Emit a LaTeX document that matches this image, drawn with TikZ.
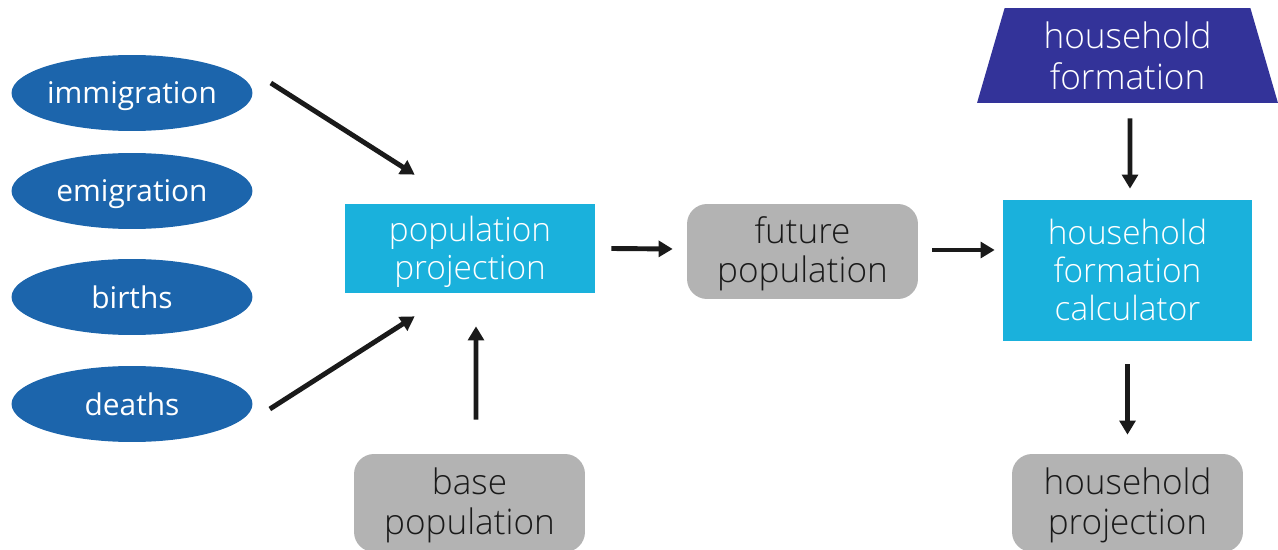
\documentclass[tikz,border=0pt]{standalone}
\usepackage{fontspec}
\setmainfont{Open Sans}
\newfontfamily\lightfont{Open Sans Light}
\usetikzlibrary{arrows.meta, calc, shapes.geometric}

\definecolor{inputblue}{HTML}{1C65AC}
\definecolor{procblue}{HTML}{1AB1DC}
\definecolor{datagray}{HTML}{B3B3B3}
\definecolor{paramnavy}{HTML}{333399}
\definecolor{arrowblack}{HTML}{1A1A1A}

% taller first line, so the box text sits a little lower
\newcommand{\firstline}{\rule{0pt}{0.7cm}}

\begin{document}
\begin{tikzpicture}[
        x=0.02cm, y=-0.02cm,
        source/.style={
            ellipse,
            fill=inputblue,
            text=white,
            inner sep=0pt,
            text depth=0pt,
            minimum width=4.82cm,
            minimum height=1.52cm,
            font=\fontsize{17}{20}\selectfont
        },
        process/.style={
            rectangle,
            fill=procblue,
            text=white,
            inner sep=0pt,
            align=center,
            font=\lightfont\fontsize{19}{21.7}\selectfont
        },
        data/.style={
            rectangle,
            rounded corners=0.4cm,
            fill=datagray,
            text=arrowblack,
            inner sep=0pt,
            minimum width=4.62cm,
            align=center,
            font=\lightfont\fontsize{20}{22.5}\selectfont
        },
        param/.style={
            trapezium,
            trapezium angle=68,
            trapezium stretches body,
            fill=paramnavy,
            text=white,
            inner sep=0pt,
            minimum width=6.02cm,
            minimum height=1.9cm,
            align=center,
            font=\lightfont\fontsize{20}{23.5}\selectfont
        },
        arrow/.style={
            -{Triangle[length=8pt, width=9pt]},
            line width=2.8pt,
            arrowblack
        }
    ]
    \useasboundingbox (0,0) rectangle (1278,550);

    % inputs
    \node[source] (immigration) at (132,93) {immigration};
    \node[source] (emigration) at (132,191) {emigration};
    \node[source] (births) at (132,297) {births};
    \node[source] (deaths) at (132,404) {deaths};

    \node[process, minimum width=5cm, minimum height=1.78cm] (popproj) at (470,248.5) {\firstline population\\projection\strut};
    \node[data, minimum height=1.96cm] (basepop) at (469.5,503) {\firstline base\\population\strut};
    \node[data, minimum height=1.9cm] (futpop) at (802.5,251.5) {\firstline future\\population\strut};

    \node[param] (hhform) at (1127.5,55.5) {household\\formation};
    \node[process, minimum width=4.98cm, minimum height=2.82cm] (calc) at (1127.5,270.5) {\firstline household\\formation\\calculator\strut};
    \node[data, minimum height=1.96cm] (hhproj) at (1127.5,503) {\firstline household\\projection\strut};

    % connectors
    \draw[arrow] ($(immigration.east)+(18,-10)$) -- ($(popproj.north west)+(70,-29)$);
    \draw[arrow] ($(deaths.east)+(17,5)$) -- ($(popproj.south west)+(70,23)$);
    \draw[arrow] ($(basepop.north)+(6.5,-34)$) -- ($(popproj.south)+(6,33)$);
    \draw[arrow] ($(popproj.east)+(16,0)$) -- ($(futpop.west)+(-14,-2.5)$);
    \draw[arrow] ($(futpop.east)+(14,-1.5)$) -- ($(calc.west)+(-8,-20.5)$);
    \draw[arrow] ($(hhform.south)+(2.5,15)$) -- ($(calc.north)+(2.5,-11)$);
    \draw[arrow] ($(calc.south)+(0,23)$) -- ($(hhproj.north)+(0,-19)$);
\end{tikzpicture}
\end{document}
